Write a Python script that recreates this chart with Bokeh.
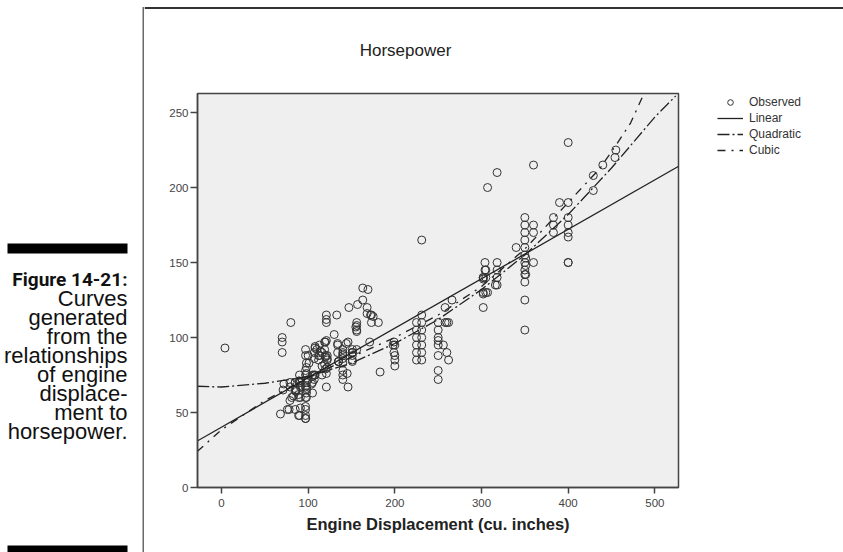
from bokeh.plotting import figure
from bokeh.layouts import row, column
from bokeh.models import Range1d, Legend, LegendItem, FixedTicker
from bokeh.core.properties import value
from bokeh.embed import file_html
from bokeh.resources import INLINE

# ---------------- data ----------------
observed = [
    (4, 93), (68, 49), (70, 90), (70, 97), (70, 100), (71, 65), (72, 69), (76, 52), (78, 52),
    (79, 58), (79, 67), (79, 70), (80, 110), (81, 60), (83, 61),
    (85, 52), (85, 65), (85, 70), (85, 70), (86, 64), (86, 65),
    (89, 48), (89, 60), (89, 62), (89, 71), (90, 48), (90, 70), (90, 71), (90, 75),
    (91, 53), (91, 60), (91, 67), (91, 68), (91, 70),
    (97, 46), (97, 46), (97, 48), (97, 52), (97, 54), (97, 60), (97, 67), (97, 75), (97, 78), (97, 88), (97, 92),
    (98, 60), (98, 63), (98, 65), (98, 66), (98, 68), (98, 70), (98, 76), (98, 80), (98, 83),
    (100, 72), (100, 88), (101, 83), (104, 69), (105, 63), (105, 70), (105, 74), (105, 75),
    (107, 72), (107, 75), (107, 86), (107, 90), (108, 75), (108, 93), (108, 94), (110, 92),
    (112, 85), (112, 88), (113, 88), (113, 95), (114, 91), (116, 75), (116, 81), (116, 90),
    (119, 82), (119, 92), (119, 97), (120, 79), (120, 87), (120, 88), (120, 97),
    (121, 67), (121, 76), (121, 98), (121, 110), (121, 112), (121, 115),
    (122, 80), (122, 85), (122, 86), (122, 88), (130, 102), (133, 115),
    (134, 90), (134, 95), (134, 96), (135, 84), (135, 84), (135, 84),
    (140, 72), (140, 75), (140, 78), (140, 83), (140, 86), (140, 88), (140, 89), (140, 90), (140, 92),
    (144, 96), (145, 76), (146, 67), (146, 97), (147, 120),
    (151, 84), (151, 85), (151, 88), (151, 90), (151, 90), (151, 90), (151, 92),
    (155, 107), (156, 92), (156, 104), (156, 105), (156, 108), (156, 110), (157, 122),
    (163, 125), (163, 133), (168, 116), (168, 120), (169, 132), (171, 97),
    (172, 115), (173, 110), (173, 115), (175, 114), (181, 110), (183, 77),
    (198, 95), (199, 90), (199, 97), (200, 81), (200, 85), (200, 88), (200, 95),
    (225, 85), (225, 90), (225, 95), (225, 100), (225, 105), (225, 110),
    (231, 85), (231, 90), (231, 95), (231, 100), (231, 105), (231, 110), (231, 115), (231, 165),
    (250, 72), (250, 78), (250, 88), (250, 95), (250, 98), (250, 100), (250, 105), (250, 110),
    (256, 95), (258, 110), (258, 120), (260, 90), (260, 110), (262, 85), (262, 110), (266, 125),
    (302, 120), (302, 129), (302, 130), (302, 139), (302, 140), (302, 140),
    (304, 145), (304, 150), (305, 130), (305, 140), (305, 145), (307, 130), (307, 200),
    (316, 135), (318, 135), (318, 140), (318, 145), (318, 150), (318, 210), (340, 160),
    (350, 105), (350, 125), (350, 137), (350, 142), (350, 145), (350, 150), (350, 155),
    (350, 160), (350, 165), (350, 170), (350, 175), (350, 180),
    (351, 142), (351, 148), (351, 153), (360, 150), (360, 170), (360, 175), (360, 215),
    (383, 170), (383, 175), (383, 180), (390, 190),
    (400, 150), (400, 150), (400, 167), (400, 170), (400, 175), (400, 180), (400, 190), (400, 230),
    (429, 198), (429, 208), (440, 215), (454, 220), (455, 225),
]
displacement = [d for d, h in observed]
horsepower = [h for d, h in observed]

linear_x = [-28, 527]
linear_y = [31, 214]

quad_x = [-28, 0, 50, 100, 150, 200, 250, 300, 350, 400, 450, 500, 524]
quad_y = [67.5, 67, 69.5, 74, 83, 96, 112, 132, 155, 182, 213, 247, 261]

cubic_x = [-28, 0, 50, 100, 150, 200, 250, 300, 350, 400, 437, 456, 472, 487]
cubic_y = [24, 38.5, 58, 73, 87, 100, 115, 134, 159, 190, 213, 229, 243, 262]

x_ticks = [0, 100, 200, 300, 400, 500]
y_ticks = [0, 50, 100, 150, 200, 250]

chart_title = "Horsepower"
x_label = "Engine Displacement (cu. inches)"
legend_labels = ["Observed", "Linear", "Quadratic", "Cubic"]
caption_head = "Figure 14-21:"
caption_lines = ["Curves", "generated", "from the", "relationships",
                 "of engine", "displace-", "ment to", "horsepower."]

# styles
POINT = dict(marker="circle", size=8, fill_color=None, line_color="#333333", line_width=1)
LINE = dict(line_color="#222222", line_width=1.3)
DASH_QUAD = "12 3 2 3"
DASH_CUBIC = "8 6 2 6"

# ---------------- left caption panel (pixel coordinates) ----------------
CW, TOTAL_H = 144, 552
cap = figure(width=CW, height=TOTAL_H, output_backend="svg", toolbar_location=None,
             x_range=Range1d(0, CW), y_range=Range1d(TOTAL_H, 0),
             x_axis_location=None, y_axis_location=None, min_border=0)
cap.outline_line_color = None
cap.grid.visible = False
cap.background_fill_color = "white"
cap.border_fill_color = "white"
cap.quad(left=[7, 7], right=[127, 127], top=[243, 545], bottom=[253, 552],
         fill_color="black", line_color=None)
cap.quad(left=[142], right=[144], top=[6.5], bottom=[552], fill_color="#6a6a6a", line_color=None)
cap.text(x=[127], y=[279], text=[caption_head], text_align="right", text_baseline="middle",
         text_font=value("Roboto"), text_font_style="bold",
         text_font_size="19px", text_color="#111111")
cap.text(x=[127] * len(caption_lines), y=[298, 317, 336, 355, 374, 393, 412, 431],
         text=caption_lines, text_align="right", text_baseline="middle",
         text_font=value("Liberation Sans"), text_font_size="22px", text_color="#111111")

# ---------------- top strip with the chart title (pixel coordinates) ----------------
RW, TOP_H = 843 - CW, 66
top = figure(width=RW, height=TOP_H, output_backend="svg", toolbar_location=None,
             x_range=Range1d(CW, 843), y_range=Range1d(TOP_H, 0),
             x_axis_location=None, y_axis_location=None, min_border=0)
top.outline_line_color = None
top.grid.visible = False
top.background_fill_color = "white"
top.border_fill_color = "white"
top.quad(left=[CW], right=[843], top=[6.5], bottom=[8.5], fill_color="#333333", line_color=None)
top.text(x=[405], y=[50], text=[chart_title], text_align="center", text_baseline="middle",
         text_font=value("Liberation Sans"), text_font_size="17px", text_color="#222222")

# ---------------- main chart ----------------
MAIN_H = TOTAL_H - TOP_H
LX = 700  # page x where the legend panel starts
p = figure(width=LX - CW, height=MAIN_H, output_backend="svg", toolbar_location=None,
           x_range=Range1d(-27.7, 527.3), y_range=Range1d(0, 262.7),
           min_border_left=197 - CW, min_border_right=LX - 678,
           min_border_top=93 - TOP_H, min_border_bottom=TOTAL_H - 487)
p.background_fill_color = "#efefef"
p.border_fill_color = "white"
p.outline_line_color = "#444444"
p.outline_line_width = 1.5
p.grid.visible = False

p.xaxis.ticker = FixedTicker(ticks=x_ticks)
p.yaxis.ticker = FixedTicker(ticks=y_ticks)
for ax in (p.xaxis, p.yaxis):
    ax.axis_line_color = "#444444"
    ax.axis_line_width = 1.5
    ax.major_tick_in = 0
    ax.major_tick_line_color = "#444444"
    ax.major_tick_line_width = 1.5
    ax.minor_tick_line_color = None
    ax.major_label_text_font = "Liberation Sans"
    ax.major_label_text_font_size = "11.5px"
    ax.major_label_text_color = "#444444"
p.xaxis.major_tick_out = 6
p.yaxis.major_tick_out = 7
p.xaxis.major_label_standoff = 5
p.yaxis.major_label_standoff = 2
p.xaxis.axis_label = x_label
p.xaxis.axis_label_text_font = "Liberation Sans"
p.xaxis.axis_label_text_font_style = "bold"
p.xaxis.axis_label_text_font_size = "16.5px"
p.xaxis.axis_label_text_color = "#222222"
p.xaxis.axis_label_standoff = 5

p.scatter(displacement, horsepower, **POINT)
p.line(linear_x, linear_y, **LINE)
p.line(quad_x, quad_y, line_dash=DASH_QUAD, **LINE)
p.line(cubic_x, cubic_y, line_dash=DASH_CUBIC, **LINE)

# ---------------- legend panel ----------------
leg = figure(width=843 - LX, height=MAIN_H, output_backend="svg", toolbar_location=None,
             x_range=Range1d(0, 1), y_range=Range1d(0, 1),
             x_axis_location=None, y_axis_location=None, min_border=0)
leg.outline_line_color = None
leg.grid.visible = False
leg.background_fill_color = "white"
leg.border_fill_color = "white"
# key renderers for the legend swatches (placed outside the visible range of this panel)
r_obs = leg.scatter(x=[-5], y=[-5], **POINT)
r_lin = leg.line(x=[-5, -4], y=[-5, -5], **LINE)
r_quad = leg.line(x=[-5, -4], y=[-5, -5], line_dash=DASH_QUAD, **LINE)
r_cub = leg.line(x=[-5, -4], y=[-5, -5], line_dash=DASH_CUBIC, **LINE)
legend = Legend(items=[LegendItem(label=lab, renderers=[r])
                       for lab, r in zip(legend_labels, [r_obs, r_lin, r_quad, r_cub])],
                location=(717 - LX, TOTAL_H - 156.7), background_fill_alpha=0,
                border_line_alpha=0, padding=0, margin=0, spacing=2, glyph_width=26,
                glyph_height=14, label_height=14, label_standoff=6,
                label_text_font="Liberation Sans", label_text_font_size="12px",
                label_text_color="#333333")
leg.add_layout(legend)

layout = row(cap,
             column(row(top, spacing=0),
                    row(row(p, spacing=0), row(leg, spacing=0), spacing=0),
                    spacing=0),
             spacing=0)
open("out.html", "w").write(file_html(layout, INLINE))
